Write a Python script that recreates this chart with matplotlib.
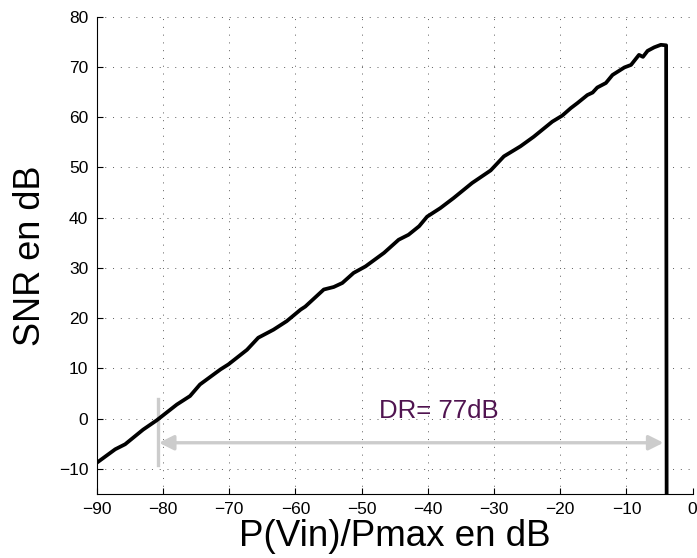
import matplotlib
matplotlib.use("Agg")
import matplotlib.pyplot as plt
import numpy as np

# SNR curve (input power in dB, SNR in dB)
p_in = [-90.0, -87.2, -85.7, -83.0, -80.9, -77.9, -75.9, -74.4, -71.3, -70.1,
        -67.3, -65.6, -63.3, -61.3, -59.2, -58.5, -55.7, -54.2, -52.9, -51.2,
        -49.4, -46.6, -44.4, -42.9, -41.3, -40.1, -38.1, -36.1, -33.3, -30.5,
        -28.5, -26.0, -24.0, -21.2, -19.7, -18.4, -17.4, -15.9, -15.1, -14.4,
        -13.1, -12.1, -10.3, -9.3, -8.1, -7.5, -6.8, -5.8, -4.8, -4.0, -3.9]
snr = [-8.8, -6.1, -5.1, -2.2, -0.3, 2.8, 4.5, 6.8, 9.8, 10.8,
       13.7, 16.1, 17.7, 19.4, 21.7, 22.3, 25.7, 26.2, 27.0, 29.0,
       30.3, 33.0, 35.6, 36.6, 38.3, 40.2, 41.9, 43.9, 46.9, 49.4,
       52.2, 54.2, 56.1, 59.1, 60.3, 61.8, 62.8, 64.4, 64.9, 65.9,
       66.8, 68.4, 69.9, 70.4, 72.4, 72.0, 73.2, 73.9, 74.4, 74.3, -40.0]

dr_start = -80.7
dr_end = -4.4
dr_label = "DR= 77dB"
xticks = list(range(-90, 1, 10))
yticks = list(range(-10, 81, 10))

plt.rcParams['font.family'] = ['Liberation Sans', 'DejaVu Sans']

fig = plt.figure(figsize=(6.97, 5.58), dpi=100)
ax = fig.add_axes([0.1387, 0.1147, 0.855, 0.8554])

ax.plot(p_in, snr, color='black', linewidth=2.7, solid_joinstyle='round', zorder=3)

# dynamic range marker
ax.plot([dr_start, dr_start], [-9.3, 4.0], color='#cccccc', linewidth=2.4, zorder=2)
ax.annotate('', xy=(dr_end, -4.8), xytext=(dr_start + 0.1, -4.8),
            arrowprops=dict(arrowstyle='<|-|>', color='#cccccc', lw=2.4,
                            mutation_scale=22, shrinkA=0, shrinkB=0), zorder=2)
ax.text(-47.4, 1.5, dr_label, color='#501450', fontsize=18.5, va='center', ha='left')

ax.set_xlim(-90, 0)
ax.set_ylim(-15, 80)
ax.set_xticks(xticks)
ax.set_yticks(yticks)
ax.tick_params(direction='in', length=4, width=0.8, labelsize=12.5, pad=6)

ax.grid(True, color='#333333', linewidth=0.7, linestyle=(0, (1, 7)), alpha=0.8)
ax.set_axisbelow(True)

for side in ['top', 'right']:
    ax.spines[side].set_visible(False)
for side in ['left', 'bottom']:
    ax.spines[side].set_linewidth(0.8)

ax.set_xlabel('P(Vin)/Pmax en dB', fontsize=26.5, labelpad=1)
ax.set_ylabel('SNR en dB', fontsize=26, labelpad=8)

fig.savefig('out.png', dpi=100)
